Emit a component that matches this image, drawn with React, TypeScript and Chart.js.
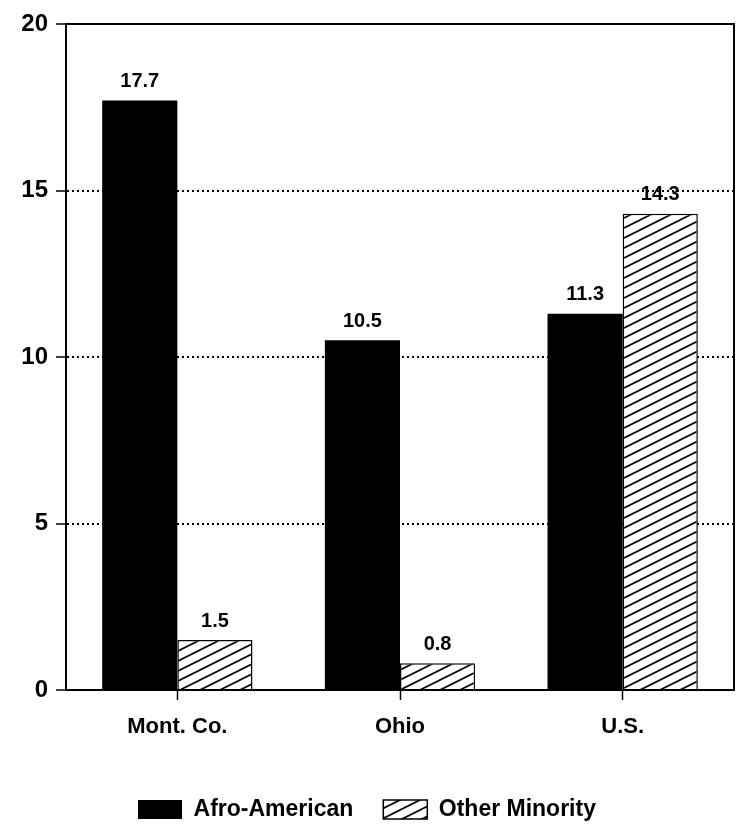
import React, { useEffect, useRef } from "react";
import { Chart, registerables } from "chart.js";

Chart.register(...registerables);

// Share of population (%) by area
const categories = ["Mont. Co.", "Ohio", "U.S."];
const afroAmerican = [17.7, 10.5, 11.3];
const otherMinority = [1.5, 0.8, 14.3];
const seriesNames = ["Afro-American", "Other Minority"];
const yTickValues = [0, 5, 10, 15, 20];

const FONT = "'Liberation Sans', Arial, Helvetica, sans-serif";

// Diagonal "/" hatching used for the second series
function makeHatch(): CanvasPattern | string {
  const tile = document.createElement("canvas");
  tile.width = 20;
  tile.height = 10;
  const c = tile.getContext("2d");
  if (!c) return "#fff";
  c.fillStyle = "#fff";
  c.fillRect(0, 0, 20, 10);
  c.strokeStyle = "#000";
  c.lineWidth = 1.7;
  for (const k of [-10, 0, 10, 20]) {
    c.beginPath();
    c.moveTo(-4, k + 2);
    c.lineTo(24, k - 12);
    c.stroke();
  }
  return c.createPattern(tile, "repeat") ?? "#fff";
}

// Closes the plot box with a top and right edge
const framePlugin = {
  id: "frame",
  afterDatasetsDraw(chart: any) {
    const { ctx, chartArea: a } = chart;
    ctx.save();
    ctx.strokeStyle = "#000";
    ctx.lineWidth = 2;
    ctx.beginPath();
    ctx.moveTo(a.left, a.top);
    ctx.lineTo(a.right, a.top);
    ctx.lineTo(a.right, a.bottom);
    ctx.stroke();
    ctx.restore();
  },
};

// Prints each bar's value above it
const valueLabels = {
  id: "valueLabels",
  afterDatasetsDraw(chart: any) {
    const ctx = chart.ctx;
    ctx.save();
    ctx.font = `bold 20px ${FONT}`;
    ctx.fillStyle = "#000";
    ctx.textAlign = "center";
    ctx.textBaseline = "bottom";
    chart.data.datasets.forEach((ds: any, i: number) => {
      chart.getDatasetMeta(i).data.forEach((bar: any, j: number) => {
        ctx.fillText(Number(ds.data[j]).toFixed(1), bar.x, bar.y - 9);
      });
    });
    ctx.restore();
  },
};

export default function App() {
  const canvasRef = useRef<HTMLCanvasElement | null>(null);

  useEffect(() => {
    const canvas = canvasRef.current;
    if (!canvas) return;
    const hatch = makeHatch();

    const chart = new Chart(canvas, {
      type: "bar",
      data: {
        labels: categories,
        datasets: [
          {
            label: seriesNames[0],
            data: afroAmerican,
            backgroundColor: "#000",
            borderColor: "#000",
            borderWidth: 0,
          },
          {
            label: seriesNames[1],
            data: otherMinority,
            backgroundColor: hatch as any,
            borderColor: "#000",
            borderWidth: 1.5,
          },
        ],
      },
      options: {
        responsive: false,
        animation: false,
        devicePixelRatio: 1,
        datasets: {
          bar: { barPercentage: 1, categoryPercentage: 0.675 },
        },
        layout: { padding: { top: 24, right: 3, left: 0, bottom: 0 } },
        plugins: {
          tooltip: { enabled: false },
          legend: {
            position: "bottom",
            align: "center",
            labels: {
              color: "#000",
              font: { family: FONT, size: 23, weight: "bold" },
              boxWidth: 44,
              boxHeight: 19,
              padding: 30,
            },
          },
        },
        scales: {
          x: {
            grid: {
              offset: false,
              drawOnChartArea: false,
              drawTicks: true,
              tickLength: 10,
              tickColor: "#000",
              tickWidth: 1.5,
            },
            border: { display: true, color: "#000", width: 2 },
            ticks: {
              color: "#000",
              font: { family: FONT, size: 22, weight: "bold" },
              padding: 14,
            },
            afterFit: (scale: any) => {
              scale.height = 78;
            },
          },
          y: {
            min: 0,
            max: 20,
            afterBuildTicks: (scale: any) => {
              scale.ticks = yTickValues.map((v) => ({ value: v }));
            },
            grid: {
              color: (ctx: any) =>
                ctx.tick && (ctx.tick.value === 0 || ctx.tick.value === 20)
                  ? "rgba(0,0,0,0)"
                  : "#000",
              lineWidth: 2,
              tickColor: "#000",
              tickWidth: 1.5,
              tickLength: 10,
              tickBorderDash: [],
            },
            border: { display: true, color: "#000", width: 2, dash: [2, 3] },
            ticks: {
              color: "#000",
              font: { family: FONT, size: 24, weight: "bold" },
              padding: 8,
            },
            afterFit: (scale: any) => {
              scale.width = 66;
            },
          },
        },
      },
      plugins: [framePlugin, valueLabels],
    });

    return () => chart.destroy();
  }, []);

  return (
    <div
      style={{
        position: "absolute",
        left: 0,
        top: 0,
        width: 737,
        height: 831,
        background: "#fff",
      }}
    >
      <canvas ref={canvasRef} width={737} height={831} style={{ display: "block" }} />
    </div>
  );
}
